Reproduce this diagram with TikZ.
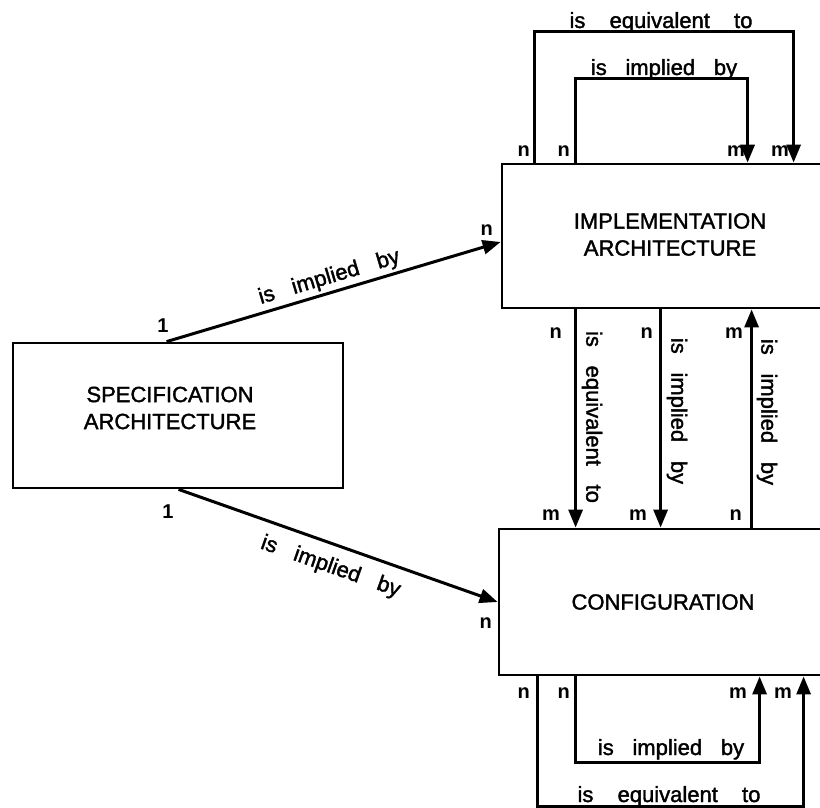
\documentclass[tikz,border=0pt]{standalone}
\usepackage{fontspec}
\setmainfont{Liberation Sans}
\newfontfamily\medf{Liberation Sans}[FakeBold=1.6]
\usetikzlibrary{arrows.meta,calc}
\newcommand\wsp{\hspace{0.85em}}
\newcommand\wwsp{\hspace{1.1em}}
\tikzset{
 boxst/.style={draw, line width=2.8pt, rectangle, inner sep=0pt},
 boxtxt/.style={font=\fontsize{22}{27}\selectfont\medf, align=center, inner sep=0pt},
 con/.style={line width=3pt, -{Triangle[length=18pt,width=14pt]}},
 lab/.style={font=\fontsize{22}{26}\selectfont\medf, inner sep=0pt},
 mult/.style={font=\fontsize{20}{24}\selectfont\bfseries, inner sep=0pt, anchor=base east},
}
\begin{document}
\begin{tikzpicture}[x=1pt,y=1pt]
\path[use as bounding box, clip] (0,0) rectangle (820,-808);
\fill[white] (0,0) rectangle (820,-808);
% boxes
\node[boxst, minimum width=330pt, minimum height=145pt] (spec) at (178,-415.5) {};
\node[boxtxt] (specT) at (170,-408) {SPECIFICATION\\ARCHITECTURE};
\node[boxst, minimum width=336pt, minimum height=144pt] (impl) at (670,-236) {};
\node[boxtxt] (implT) at (670,-234.5) {IMPLEMENTATION\\ARCHITECTURE};
\node[boxst, minimum width=328pt, minimum height=146pt] (conf) at (663,-602) {};
\node[boxtxt] (confT) at (663,-602) {CONFIGURATION};
% top loops
\draw[con] ([xshift=34pt]impl.north west) -- ++(0,131) -| ([xshift=293pt]impl.north west);
\draw[con] ([xshift=75pt]impl.north west) -- ++(0,84) -| ([xshift=247pt]impl.north west);
\node[lab, anchor=base] (t1) at (661,-28) {is\wwsp equivalent\wwsp to};
\node[lab, anchor=base] (t2) at (664,-75) {is\wsp implied\wsp by};
\node[mult] (tn1) at (530,-157) {n};
\node[mult] (tn2) at (570,-157) {n};
\node[mult] (tm1) at (745,-157) {m};
\node[mult] (tm2) at (789,-157) {m};
% vertical arrows
\coordinate (v1) at ([xshift=75pt]impl.south west);
\coordinate (v2) at ([xshift=160pt]impl.south west);
\coordinate (v3) at ([xshift=251pt]impl.south west);
\draw[con] (v1) -- (v1 |- conf.north);
\draw[con] (v2) -- (v2 |- conf.north);
\draw[con] (v3 |- conf.north) -- (v3);
\node[lab, rotate=-90] (v1l) at (592,-417) {is\wsp equivalent\wsp to};
\node[lab, rotate=-90] (v2l) at (677,-411) {is\wsp implied\wsp by};
\node[lab, rotate=-90] (v3l) at (767,-412) {is\wsp implied\wsp by};
\node[mult] (vn1) at (562,-338) {n};
\node[mult] (vn2) at (653,-338) {n};
\node[mult] (vm3) at (743,-338) {m};
\node[mult] (vm1) at (560,-520) {m};
\node[mult] (vm2) at (647,-520) {m};
\node[mult] (vn3) at (742,-520) {n};
% bottom loops
\draw[con] ([xshift=40pt]conf.south west) -- ++(0,-130) -| ([xshift=306pt]conf.south west);
\draw[con] ([xshift=78pt]conf.south west) -- ++(0,-86) -| ([xshift=262pt]conf.south west);
\node[lab, anchor=base] (b1) at (671,-755) {is\wsp implied\wsp by};
\node[lab, anchor=base] (b2) at (669,-802) {is\wwsp equivalent\wwsp to};
\node[mult] (bn1) at (530,-698) {n};
\node[mult] (bn2) at (570,-698) {n};
\node[mult] (bm1) at (747,-698) {m};
\node[mult] (bm2) at (792,-698) {m};
% diagonals
\draw[con] ([xshift=155pt]spec.north west) -- ([yshift=-6pt]impl.west)
  node[lab, midway, sloped, above, inner sep=3pt] (d1l) {is\wsp implied\wsp by};
\draw[con] ([xshift=167pt]spec.south west) -- (conf.west)
  node[lab, midway, sloped, below, inner sep=11pt] (d2l) {is\wsp implied\wsp by};
\node[mult, anchor=base] (one1) at (163,-332) {1};
\node[mult, anchor=base] (one2) at (168,-518) {1};
\node[mult] (dn1) at (493,-235) {n};
\node[mult] (dn2) at (492,-628) {n};
\end{tikzpicture}
\end{document}
